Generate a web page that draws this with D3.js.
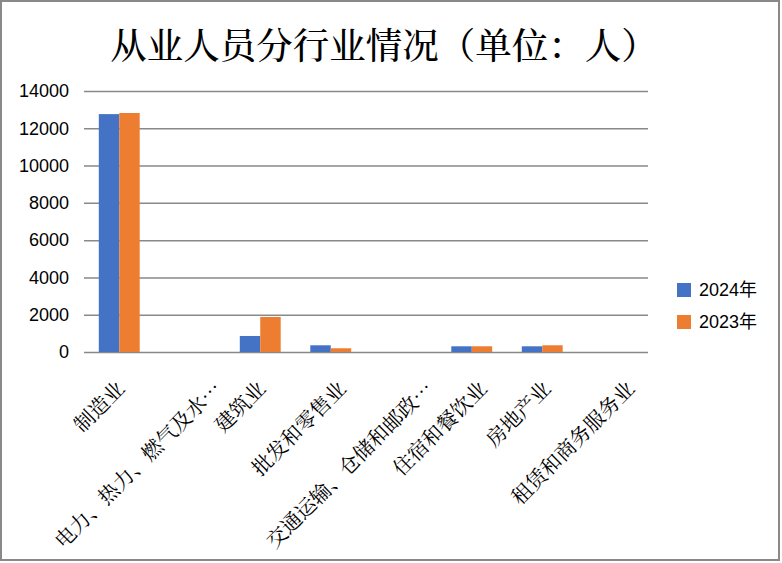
<!DOCTYPE html>
<html>
<head>
<meta charset="utf-8">
<script src="https://cdn.jsdelivr.net/npm/d3@7"></script>
<style>
  body { margin: 0; background: #fff; }
  svg { display: block; }
</style>
</head>
<body>
<div class="chart"></div>
<script>
'use strict';

var categories = ['制造业', '电力、热力、燃气及水…', '建筑业', '批发和零售业',
  '交通运输、仓储和邮政…', '住宿和餐饮业', '房地产业', '租赁和商务服务业'];
var seriesNames = ['2024年', '2023年'];
var values2024 = [12760, 0, 860, 360, 0, 306, 306, 0];
var values2023 = [12820, 0, 1880, 200, 0, 306, 360, 0];
var yTicks = [0, 2000, 4000, 6000, 8000, 10000, 12000, 14000];

(function () {

  var width = 782,
      height = 563;
  var left = 84, right = 648, top = 91, bottom = 352;
  var color = d3.scaleOrdinal().domain(seriesNames).range(['#4472C4', '#ED7D31']);
  var cjk = '"Noto Serif CJK SC", "Noto Sans CJK SC", serif';
  var num = '"Liberation Sans", "Noto Sans CJK SC", sans-serif';

  var rows = categories.map(function (c, i) {
    return { cat: c, vals: [values2024[i], values2023[i]] };
  });

  var x = d3.scaleBand()
      .domain(categories)
      .range([left, right])
      .paddingInner(0.42)
      .paddingOuter(0.21);
  var xs = d3.scaleBand()
      .domain(seriesNames)
      .range([0, x.bandwidth()]);
  var y = d3.scaleLinear()
      .domain([0, 14000])
      .range([bottom, top]);

  var svg = d3.select('.chart')
    .append('svg')
      .attr('width', width)
      .attr('height', height);

  svg.append('rect')
      .attr('x', 1).attr('y', 1)
      .attr('width', width - 4).attr('height', height - 4)
      .attr('fill', '#fff')
      .attr('stroke', '#898989')
      .attr('stroke-width', 2);

  svg.append('text')
      .attr('x', 384)
      .attr('y', 59)
      .attr('text-anchor', 'middle')
      .style('font-family', cjk)
      .style('font-size', '36.5px')
      .style('font-weight', 500)
      .style('fill', '#000')
      .text('从业人员分行业情况（单位：人）');

  // y axis with gridlines
  var yAxis = svg.append('g')
      .attr('transform', 'translate(' + left + ',0)')
      .call(d3.axisLeft(y)
        .tickValues(yTicks)
        .tickSize(-(right - left))
        .tickPadding(15)
        .tickFormat(d3.format('d')));
  yAxis.select('.domain').remove();
  yAxis.selectAll('.tick line')
      .attr('stroke', '#898989')
      .attr('stroke-width', 1.5);
  yAxis.selectAll('.tick text')
      .style('font-family', num)
      .style('font-size', '18px')
      .style('fill', '#000');

  var g = svg.selectAll('.cat')
      .data(rows)
    .enter().append('g')
      .attr('class', 'cat')
      .attr('transform', function (d) { return 'translate(' + x(d.cat) + ',0)'; });
  g.selectAll('rect')
      .data(function (d) {
        return seriesNames.map(function (s, i) { return { key: s, value: d.vals[i] }; });
      })
    .enter().append('rect')
      .attr('x', function (d) { return xs(d.key); })
      .attr('y', function (d) { return y(d.value); })
      .attr('width', xs.bandwidth())
      .attr('height', function (d) { return y(0) - y(d.value); })
      .attr('fill', function (d) { return color(d.key); });

  // rotated category labels, shifted a bit by their length like the original
  svg.selectAll('.xlabel')
      .data(categories)
    .enter().append('text')
      .attr('class', 'xlabel')
      .attr('text-anchor', 'end')
      .style('font-family', cjk)
      .style('font-size', '20.5px')
      .style('fill', '#000')
      .text(function (d) { return d; })
      .attr('transform', function (d) {
        var len = this.getComputedTextLength();
        var cx = x(d) + x.bandwidth() / 2 + 0.16 * len - 3;
        return 'translate(' + cx + ',390) rotate(-45)';
      });

  var legend = svg.selectAll('.legend')
      .data(seriesNames)
    .enter().append('g')
      .attr('class', 'legend')
      .attr('transform', function (d, i) { return 'translate(677,' + (283 + i * 32) + ')'; });
  legend.append('rect')
      .attr('width', 14)
      .attr('height', 14)
      .attr('fill', function (d) { return color(d); });
  legend.append('text')
      .attr('x', 22)
      .attr('y', 7)
      .attr('dy', '0.36em')
      .style('font-family', num)
      .style('font-size', '18px')
      .style('fill', '#000')
      .text(function (d) { return d; });
})();
</script>
</body>
</html>
